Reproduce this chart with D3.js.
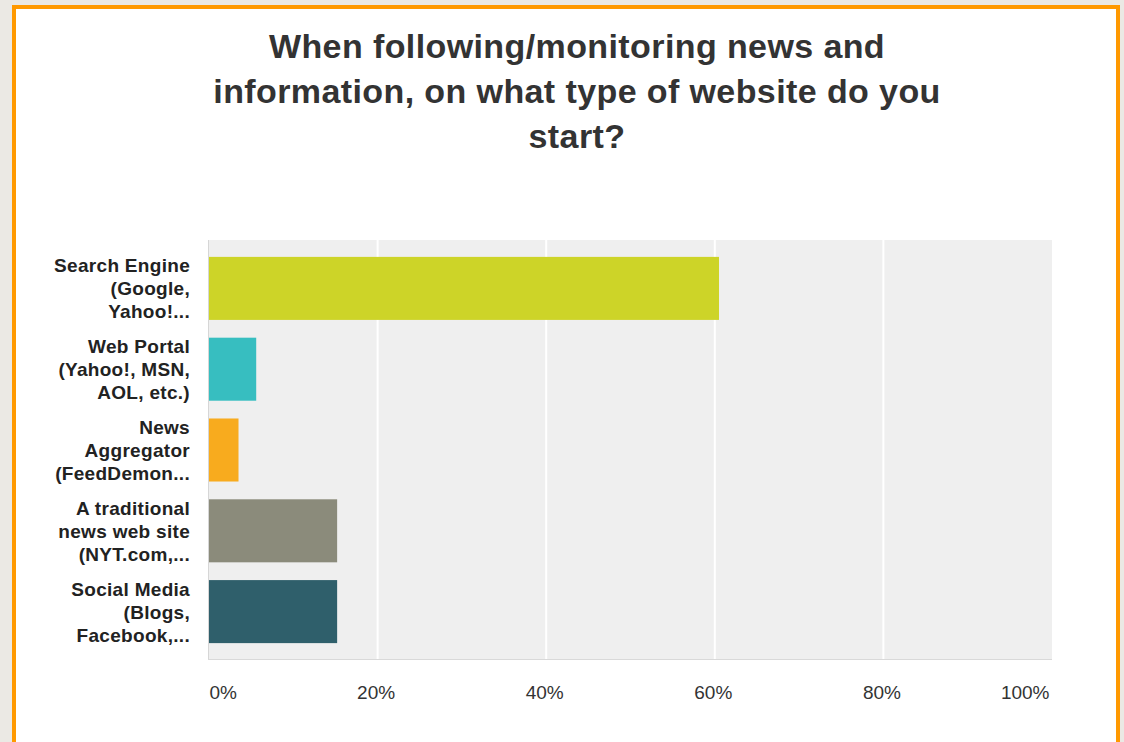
<!DOCTYPE html>
<html>
<head>
<meta charset="utf-8">
<script src="https://cdn.jsdelivr.net/npm/d3@7"></script>
<style>
  body { margin: 0; background: #ebe9e4; }
  text { font-family: "Liberation Sans", Arial, sans-serif; }
</style>
</head>
<body>
<script>
// chart data
var titleLines = ["When following/monitoring news and",
    "information, on what type of website do you", "start?"];
var categories = ["Search Engine (Google, Yahoo!...", "Web Portal (Yahoo!, MSN, AOL, etc.)",
    "News Aggregator (FeedDemon...", "A traditional news web site (NYT.com,...",
    "Social Media (Blogs, Facebook,..."];
var labelLines = [["Search Engine", "(Google,", "Yahoo!..."],
    ["Web Portal", "(Yahoo!, MSN,", "AOL, etc.)"],
    ["News", "Aggregator", "(FeedDemon..."],
    ["A traditional", "news web site", "(NYT.com,..."],
    ["Social Media", "(Blogs,", "Facebook,..."]];
var values = [0.605, 0.056, 0.035, 0.152, 0.152];
var colors = ["#cdd428", "#37bec0", "#f8ab1e", "#8b8b7b", "#2f5f6b"];
var ticks = [0, 0.2, 0.4, 0.6, 0.8, 1];

var W = 1124, H = 742;
var svg = d3.select("body").append("svg")
    .attr("width", W)
    .attr("height", H);

// frame
svg.append("rect")
    .attr("x", 14).attr("y", 7)
    .attr("width", 1104).attr("height", 800)
    .attr("fill", "#fff")
    .attr("stroke", "#ff9900")
    .attr("stroke-width", 4);

// title
svg.append("text")
    .attr("x", 577)
    .attr("text-anchor", "middle")
    .attr("font-size", 34)
    .attr("font-weight", "bold")
    .attr("letter-spacing", 0.4)
    .attr("fill", "#333")
    .selectAll("tspan")
    .data(titleLines)
    .enter().append("tspan")
    .attr("x", 577)
    .attr("y", function(d, i) { return 58 + i * 45; })
    .text(function(d) { return d; });

var plot = {left: 208, right: 1052, top: 240, bottom: 660};

var x = d3.scaleLinear().domain([0, 1]).range([plot.left + 1, plot.right]);
var y = d3.scaleBand().domain(categories).range([248, 652])
    .paddingInner(0.22).paddingOuter(0.11);

svg.append("rect")
    .attr("x", plot.left).attr("y", plot.top)
    .attr("width", plot.right - plot.left)
    .attr("height", plot.bottom - plot.top)
    .attr("fill", "#efefef");

// gridlines
svg.selectAll(".grid")
    .data(ticks.slice(1, -1))
    .enter().append("line")
    .attr("class", "grid")
    .attr("x1", function(d) { return x(d); })
    .attr("x2", function(d) { return x(d); })
    .attr("y1", plot.top).attr("y2", plot.bottom)
    .attr("stroke", "#fff")
    .attr("stroke-width", 2);

svg.append("line")
    .attr("x1", plot.left + 0.5).attr("x2", plot.left + 0.5)
    .attr("y1", plot.top).attr("y2", plot.bottom)
    .attr("stroke", "#d6d6d6");
svg.append("line")
    .attr("x1", plot.left).attr("x2", plot.right)
    .attr("y1", plot.bottom - 0.5).attr("y2", plot.bottom - 0.5)
    .attr("stroke", "#d9d9d9");

// bars
svg.selectAll(".bar")
    .data(values)
    .enter().append("rect")
    .attr("class", "bar")
    .attr("x", x(0))
    .attr("y", function(d, i) { return y(categories[i]); })
    .attr("width", function(d) { return x(d) - x(0); })
    .attr("height", y.bandwidth())
    .attr("fill", function(d, i) { return colors[i]; });

// category labels
var lab = svg.selectAll(".lab")
    .data(categories)
    .enter().append("text")
    .attr("class", "lab")
    .attr("text-anchor", "end")
    .attr("font-size", 19)
    .attr("font-weight", "bold")
    .attr("letter-spacing", 0.3)
    .attr("fill", "#222");
lab.selectAll("tspan")
    .data(function(d, i) {
        var c = y(d) + y.bandwidth() / 2;
        return labelLines[i].map(function(t, j) { return {t: t, y: c - 16 + j * 23}; });
    })
    .enter().append("tspan")
    .attr("x", 190)
    .attr("y", function(d) { return d.y; })
    .text(function(d) { return d.t; });

// x axis
var xAxis = d3.axisBottom(x)
    .tickValues(ticks)
    .tickSize(0)
    .tickPadding(0)
    .tickFormat(d3.format(".0%"));
var ax = svg.append("g")
    .attr("transform", "translate(0," + 699 + ")")
    .call(xAxis);
ax.select(".domain").remove();
ax.selectAll("text")
    .attr("dy", 0)
    .attr("y", 0)
    .attr("font-size", 19)
    .attr("font-family", "Liberation Sans, Arial, sans-serif")
    .attr("fill", "#333")
    .attr("text-anchor", function(d, i) { return i == 0 ? "start" : (i == ticks.length - 1 ? "end" : "middle"); })
    .attr("x", function(d, i) { return i == ticks.length - 1 ? -3 : (i == 0 ? 0 : -2); });
</script>
</body>
</html>
